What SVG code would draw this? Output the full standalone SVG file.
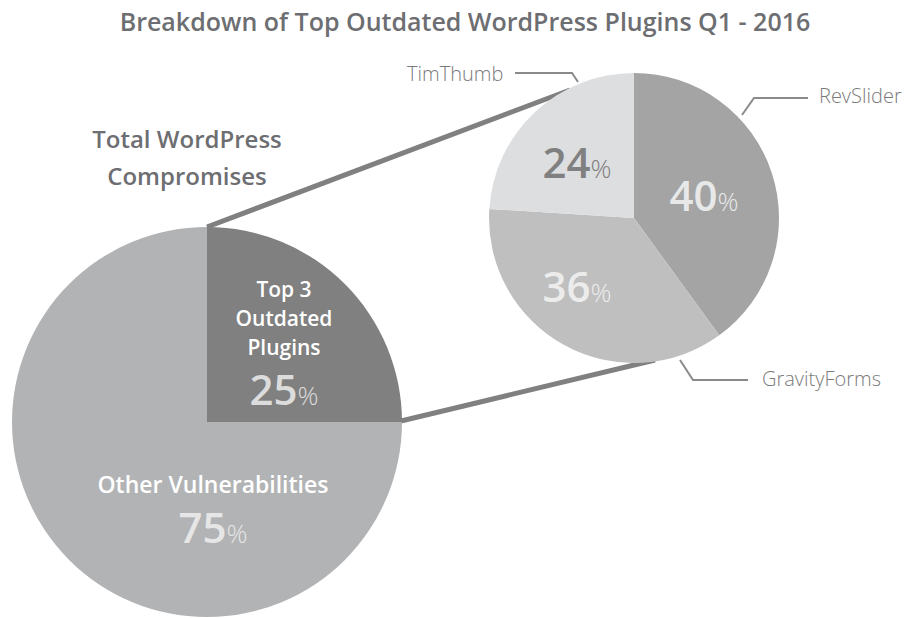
<svg xmlns="http://www.w3.org/2000/svg" width="905" height="618" viewBox="0 0 905 618">
<style>
.t{font-family:"Open Sans","Liberation Sans",sans-serif;}
.title{font-size:25px;font-weight:600;fill:#6d6e71;}
.head{font-size:24px;font-weight:600;fill:#6d6e71;}
.in{font-size:21px;font-weight:600;fill:#ffffff;}
.in2{font-size:23px;font-weight:600;fill:#ffffff;}
.big{font-size:42px;font-weight:600;}
.pct{font-size:26px;font-weight:300;}
.lab{font-size:20px;font-weight:300;fill:#7a7a7a;}
.conn{stroke:#808080;stroke-width:5;fill:none;}
.lead{stroke:#8a8a8a;stroke-width:2;fill:none;}
</style>
<rect width="905" height="618" fill="#ffffff"/>
<text class="t title" x="465" y="31" text-anchor="middle">Breakdown of Top Outdated WordPress Plugins Q1 - 2016</text>
<g id="connectors">
<line class="conn" x1="207" y1="227" x2="570" y2="90"/>
<line class="conn" x1="401" y1="421" x2="655" y2="360"/>
<polyline class="lead" points="515,73 572,73 578,82"/>
<polyline class="lead" points="742,115 754,98 808,98"/>
<polyline class="lead" points="680,360 693,380 748,380"/>
</g>
<g id="total-heading">
<text class="t head" x="187" y="148" text-anchor="middle">Total WordPress</text>
<text class="t head" x="187" y="185" text-anchor="middle">Compromises</text>
</g>
<g id="other-vulnerabilities">
<path d="M207,422 L402,422 A195,195 0 1 1 207,227 Z" fill="#b2b3b5"/>
<text class="t in2" x="213" y="493" text-anchor="middle">Other Vulnerabilities</text>
<text class="t" x="213" y="543" text-anchor="middle"><tspan class="big" fill="#e6e6e6">75</tspan><tspan class="pct" fill="#e6e6e6">%</tspan></text>
</g>
<g id="top3">
<path d="M207,422 L207,227 A195,195 0 0 1 402,422 Z" fill="#808080"/>
<text class="t in" x="284" y="297" text-anchor="middle">Top 3</text>
<text class="t in" x="284" y="326" text-anchor="middle">Outdated</text>
<text class="t in" x="284" y="355" text-anchor="middle">Plugins</text>
<text class="t" x="284" y="405" text-anchor="middle"><tspan class="big" fill="#dcdcdc">25</tspan><tspan class="pct" fill="#dcdcdc">%</tspan></text>
</g>
<g id="revslider">
<path d="M634,218 L634,73 A145,145 0 0 1 719.23,335.31 Z" fill="#a3a4a3"/>
<text class="t" x="704" y="211" text-anchor="middle"><tspan class="big" fill="#e8e8e8">40</tspan><tspan class="pct" fill="#e8e8e8">%</tspan></text>
<text class="t lab" x="819" y="103">RevSlider</text>
</g>
<g id="gravityforms">
<path d="M634,218 L719.23,335.31 A145,145 0 0 1 489.29,208.9 Z" fill="#bfbfbf"/>
<text class="t" x="577" y="302" text-anchor="middle"><tspan class="big" fill="#ececec">36</tspan><tspan class="pct" fill="#ececec">%</tspan></text>
<text class="t lab" x="762" y="386">GravityForms</text>
</g>
<g id="timthumb">
<path d="M634,218 L489.29,208.9 A145,145 0 0 1 634,73 Z" fill="#dddee0"/>
<text class="t" x="577" y="178" text-anchor="middle"><tspan class="big" fill="#808080">24</tspan><tspan class="pct" fill="#808080">%</tspan></text>
<text class="t lab" x="407" y="81">TimThumb</text>
</g>
</svg>
